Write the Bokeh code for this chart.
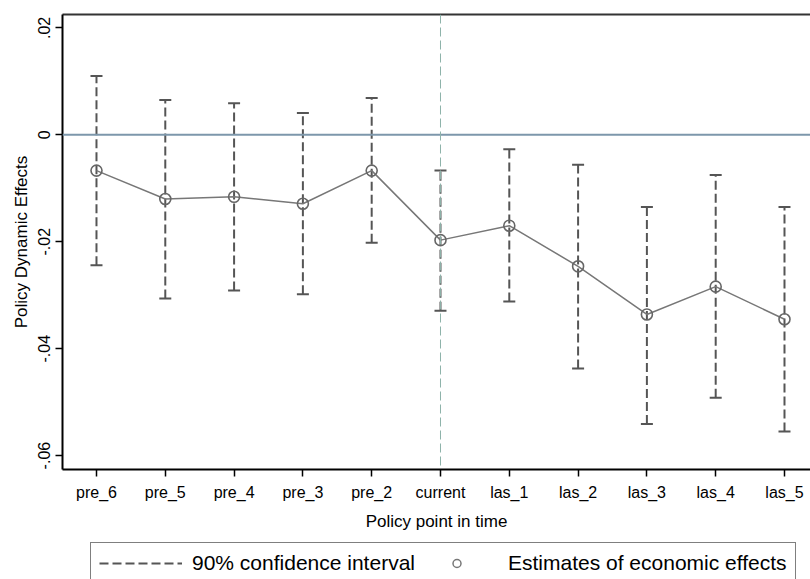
from bokeh.plotting import figure
from bokeh.layouts import column
from bokeh.models import (Range1d, Span, FixedTicker, LinearAxis, Legend,
                          LegendItem, ColumnDataSource)
from bokeh.embed import file_html
from bokeh.resources import INLINE

# ---- data ----
categories = ["pre_6", "pre_5", "pre_4", "pre_3", "pre_2", "current",
              "las_1", "las_2", "las_3", "las_4", "las_5"]
estimates = [-0.0067, -0.0120, -0.0116, -0.0129, -0.0067, -0.0197,
             -0.0170, -0.0246, -0.0336, -0.0284, -0.0345]
ci_upper = [0.0110, 0.0065, 0.0059, 0.0041, 0.0069, -0.0067,
            -0.0027, -0.0056, -0.0135, -0.0075, -0.0135]
ci_lower = [-0.0244, -0.0306, -0.0291, -0.0298, -0.0202, -0.0329,
            -0.0312, -0.0437, -0.0541, -0.0492, -0.0555]
y_ticks = [-0.06, -0.04, -0.02, 0.0, 0.02]
y_tick_labels = ["-.06", "-.04", "-.02", "0", ".02"]
event_category = "current"
legend_labels = ["90% confidence interval", "Estimates of economic effects"]

FONT = "Liberation Sans"
CI_COLOR = "#555555"
xpos = list(range(len(categories)))
src = ColumnDataSource(dict(x=xpos, est=estimates, hi=ci_upper, lo=ci_lower))

p = figure(width=810, height=533, output_backend="svg", toolbar_location=None,
           x_range=Range1d(-0.494, 10.378), y_range=Range1d(-0.0626, 0.0225),
           min_border_left=62, min_border_right=0, min_border_top=14,
           min_border_bottom=63)
p.grid.visible = False
p.outline_line_color = None
p.background_fill_color = "white"
p.border_fill_color = "white"

# reference lines
p.add_layout(Span(location=0, dimension="width", line_color="#7d97ab",
                  line_width=2))
p.add_layout(Span(location=categories.index(event_category), dimension="height",
                  line_color="#8db3a9", line_width=1, line_dash="9 4"))

# confidence intervals
p.segment(x0="x", y0="lo", x1="x", y1="hi", source=src,
          line_color=CI_COLOR, line_width=2, line_dash="9 4")
p.scatter(x="x", y="hi", source=src, marker="dash", size=12,
          line_color=CI_COLOR, line_width=2)
p.scatter(x="x", y="lo", source=src, marker="dash", size=12,
          line_color=CI_COLOR, line_width=2)

# estimates
p.line(x="x", y="est", source=src, line_color="#777777", line_width=1.5)
p.scatter(x="x", y="est", source=src, marker="circle", size=11,
          fill_color=None, line_color="#666666", line_width=1.6)

# axes
xa = p.xaxis[0]
xa.ticker = FixedTicker(ticks=xpos)
xa.major_label_overrides = {i: c for i, c in zip(xpos, categories)}
xa.axis_label = "Policy point in time"
ya = p.yaxis[0]
ya.ticker = FixedTicker(ticks=y_ticks)
ya.major_label_overrides = {t: l for t, l in zip(y_ticks, y_tick_labels)}
ya.axis_label = "Policy Dynamic Effects"
ya.major_label_orientation = "vertical"
for ax in (xa, ya):
    ax.axis_line_color = "black"
    ax.axis_line_width = 2
    ax.major_tick_out = 7
    ax.major_tick_in = 0
    ax.minor_tick_out = 0
    ax.minor_tick_in = 0
    ax.major_tick_line_color = "black"
    ax.major_tick_line_width = 1.5
    ax.major_label_text_font = FONT
    ax.major_label_text_font_size = "16px"
    ax.major_label_text_color = "black"
    ax.axis_label_text_font = FONT
    ax.axis_label_text_font_size = "17px"
    ax.axis_label_text_font_style = "normal"
    ax.axis_label_text_color = "black"
xa.major_label_standoff = 7
xa.axis_label_standoff = 8
ya.major_label_standoff = 5
ya.axis_label_standoff = 5

top = LinearAxis(ticker=FixedTicker(ticks=[]), major_tick_out=0, major_tick_in=0,
                 minor_tick_out=0, minor_tick_in=0, axis_line_color="#333333",
                 axis_line_width=2, major_label_text_font_size="0px",
                 major_label_standoff=0)
p.add_layout(top, "above")

# ---- legend strip below the plot (key renderers use the same data, kept
#      outside this strip's visible range so only the legend shows) ----
lg = figure(width=810, height=46, output_backend="svg", toolbar_location=None,
            x_range=Range1d(-3, -2), y_range=Range1d(0, 1),
            min_border_left=62, min_border_right=0, min_border_top=0,
            min_border_bottom=0)
lg.axis.visible = False
lg.grid.visible = False
lg.outline_line_color = None
lg.border_fill_color = "white"
ci_key = lg.segment(x0="x", y0="lo", x1="x", y1="hi", source=src,
                    line_color=CI_COLOR, line_width=2, line_dash="9 4")
est_key = lg.scatter(x="x", y="est", source=src, marker="circle",
                     fill_color=None, line_color="#777777", line_width=1.5)
legend = Legend(items=[LegendItem(label=legend_labels[0], renderers=[ci_key], index=0),
                       LegendItem(label=legend_labels[1], renderers=[est_key], index=0)],
                orientation="horizontal", location=(28, -5),
                glyph_width=83, glyph_height=20, label_standoff=10, spacing=0,
                padding=8, margin=0, border_line_color="black",
                border_line_width=1, label_text_font=FONT,
                label_text_font_size="21px", label_text_color="black",
                background_fill_color="white", background_fill_alpha=1)
lg.add_layout(legend, "center")

layout = column(p, lg, spacing=0)
open("out.html", "w").write(file_html(layout, INLINE))
